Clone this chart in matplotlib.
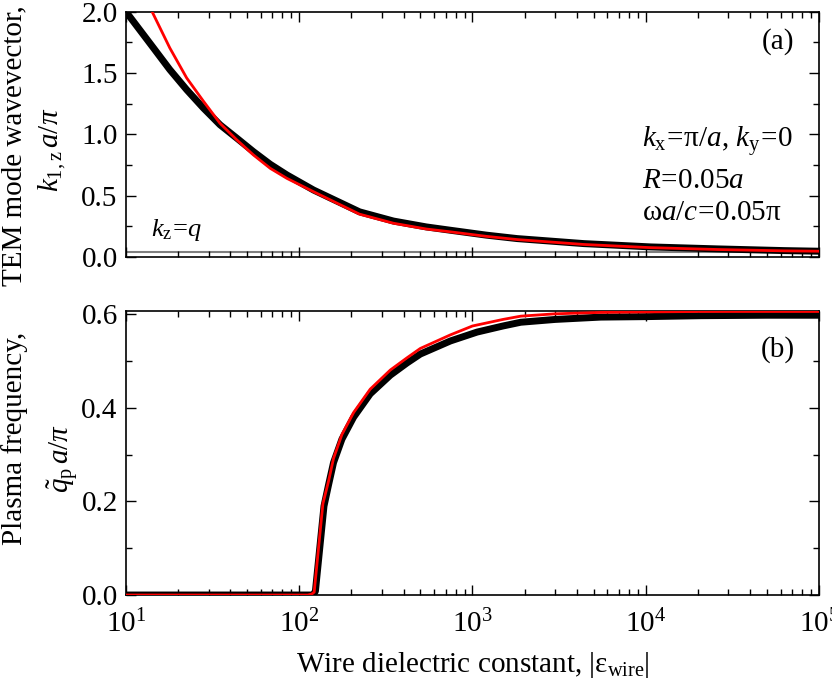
import numpy as np
import matplotlib
matplotlib.use('Agg')
import matplotlib.pyplot as plt
from matplotlib.ticker import AutoMinorLocator, LogLocator, NullFormatter

plt.rcParams['font.family'] = 'Liberation Serif'
plt.rcParams['mathtext.fontset'] = 'custom'
plt.rcParams['mathtext.rm'] = 'Liberation Serif'
plt.rcParams['mathtext.it'] = 'Liberation Serif:italic'
plt.rcParams['mathtext.bf'] = 'Liberation Serif:bold'
plt.rcParams['font.size'] = 21

# (a) TEM mode wavevector k_1z a/pi vs |eps_wire|
eps_a_black = [10, 14.4, 17.9, 22.4, 28, 34.9, 43.6, 54.4, 68, 84.9, 121, 223, 350, 542, 746,
               1205, 1811, 4400, 10700, 25900, 63000, 100000]
k_a_black = [2.00, 1.705, 1.528, 1.364, 1.214, 1.078, 0.969, 0.859, 0.756, 0.669, 0.546, 0.368,
             0.293, 0.245, 0.218, 0.178, 0.150, 0.109, 0.082, 0.066, 0.052, 0.047]
eps_a_red = [12.5, 14.1, 17.9, 22.4, 28, 34.9, 43.6, 54.4, 68, 84.9, 121, 223, 350, 542, 746,
             1205, 1811, 4400, 10700, 25900, 63000, 100000]
k_a_red = [2.17, 2.005, 1.705, 1.46, 1.27, 1.09, 0.955, 0.832, 0.723, 0.641, 0.532, 0.349, 0.275,
           0.228, 0.205, 0.168, 0.142, 0.102, 0.076, 0.061, 0.050, 0.047]
kz_q = 0.041

# (b) plasma frequency q_p a/pi vs |eps_wire|
eps_b_black = [10, 50, 100, 120, 124, 139, 147.6, 157.8, 176.4, 206, 257, 336, 419, 500, 746,
               1064, 1500, 1900, 3000, 5500, 10000, 20800, 50000, 100000]
qp_black = [0.0, 0.0, 0.0, 0.0, 0.008, 0.19, 0.235, 0.283, 0.333, 0.38, 0.43, 0.47, 0.496, 0.515,
            0.543, 0.562, 0.575, 0.583, 0.589, 0.594, 0.595, 0.597, 0.598, 0.598]
eps_b_red = [10, 50, 100, 112, 118, 122, 137, 147.6, 157.8, 176.4, 206, 257, 336, 419, 500, 746,
             1000, 1500, 1900, 3000, 5500, 10000, 20800, 100000]
qp_red = [0.0, 0.0, 0.0, 0.0, 0.002, 0.006, 0.195, 0.243, 0.292, 0.343, 0.39, 0.44, 0.481, 0.507,
          0.527, 0.556, 0.575, 0.589, 0.596, 0.601, 0.604, 0.605, 0.606, 0.606]

fig = plt.figure(figsize=(8.32, 6.84), dpi=100)
ax1 = fig.add_axes([0.1514, 0.6243, 0.8329, 0.3586])
ax2 = fig.add_axes([0.1514, 0.1301, 0.8329, 0.4152])

for ax in (ax1, ax2):
    ax.set_xscale('log')
    ax.set_xlim(10, 1e5)
    ax.xaxis.set_major_locator(LogLocator(base=10, numticks=10))
    ax.xaxis.set_minor_locator(LogLocator(base=10, subs=np.arange(2, 10), numticks=10))
    ax.xaxis.set_minor_formatter(NullFormatter())
    ax.yaxis.set_minor_locator(AutoMinorLocator(2))
    ax.tick_params(which='both', direction='in', top=True, right=True, width=1.0)
    ax.tick_params(which='major', length=7)
    ax.tick_params(which='minor', length=4)
    ax.tick_params(axis='y', pad=6)
    ax.tick_params(axis='x', pad=11)
    for s in ax.spines.values():
        s.set_linewidth(1.2)

ax1.axhline(kz_q, color='#7f7f7f', lw=1.5, zorder=1)
ax1.plot(eps_a_black, k_a_black, color='k', lw=5, solid_capstyle='round', zorder=2)
ax1.plot(eps_a_red, k_a_red, color='#ff0000', lw=2, zorder=3)
ax1.set_ylim(0, 2.0)
ax1.set_yticks([0.0, 0.5, 1.0, 1.5, 2.0])
ax1.yaxis.set_major_formatter(plt.FormatStrFormatter('%.1f'))
ax1.tick_params(labelbottom=False)
ax1.text(0.965, 0.877, '(a)', transform=ax1.transAxes, ha='right', va='center')
ax1.text(0.745, 0.45, r'$k_{\mathrm{x}}\!=\!\mathrm{\pi}/a$, $k_{\mathrm{y}}\!=\!0$',
         transform=ax1.transAxes, ha='left', va='baseline')
ax1.text(0.745, 0.282, r'$R\!=\!0.05a$', transform=ax1.transAxes, ha='left', va='baseline')
ax1.text(0.745, 0.152, r'$\mathrm{\omega}a/c\!=\!0.05\mathrm{\pi}$', transform=ax1.transAxes,
         ha='left', va='baseline')
ax1.text(0.036, 0.087, r'$k_{\mathrm{z}}\!=\!q$', transform=ax1.transAxes, ha='left',
         va='baseline', fontsize=19)

ax2.plot(eps_b_black, qp_black, color='k', lw=5, solid_capstyle='round', zorder=2)
ax2.plot(eps_b_red, qp_red, color='#ff0000', lw=2, zorder=3)
ax2.set_ylim(0, 0.607)
ax2.set_yticks([0.0, 0.2, 0.4, 0.6])
ax2.yaxis.set_major_formatter(plt.FormatStrFormatter('%.1f'))
ax2.text(0.965, 0.866, '(b)', transform=ax2.transAxes, ha='right', va='center')
ax2.set_xlabel(r'Wire dielectric constant, |$\mathrm{\varepsilon}_{\mathrm{wire}}$|', labelpad=8)

fig.text(0.017, 0.787, 'TEM mode wavevector,', rotation=90, ha='center', va='center')
fig.text(0.0625, 0.781, r'$k_{\mathrm{1,z}}\,a/\pi$', rotation=90, ha='center', va='center')
fig.text(0.018, 0.359, 'Plasma frequency,', rotation=90, ha='center', va='center')
fig.text(0.076, 0.330, r'$\tilde{q}_{\mathrm{p}}\,a/\pi$', rotation=90, ha='center', va='center')

fig.savefig('out.png', dpi=100)
